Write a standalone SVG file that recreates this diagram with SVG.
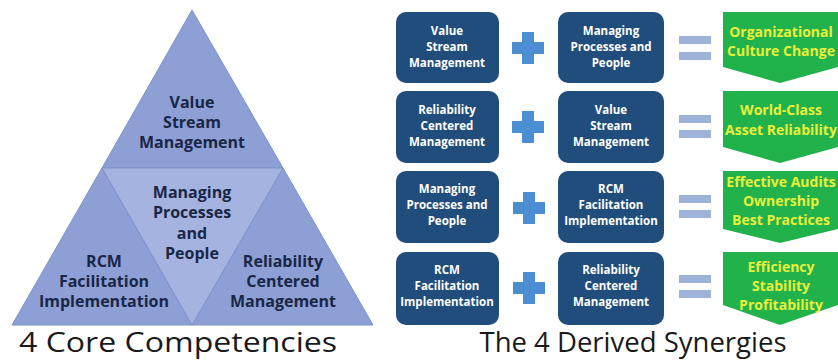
<svg xmlns="http://www.w3.org/2000/svg" width="838" height="362" viewBox="0 0 838 362">
<style>
.tri{fill:#8d9fd4;stroke:#7f92c8;stroke-width:1}
.mid{fill:#a4b3df;stroke:#7f92c8;stroke-width:1}
.tt{font-family:"Open Sans","DejaVu Sans",sans-serif;font-weight:bold;font-size:16px;fill:#1a2646;text-anchor:middle}
.box{fill:#214d7d}
.bt{font-family:"Open Sans","DejaVu Sans",sans-serif;font-weight:bold;font-size:11.5px;fill:#ffffff;text-anchor:middle}
.plus{fill:#4b8ed3}
.eq{fill:#9db3d9}
.arr{fill:#22b24c}
.gt{font-family:"Open Sans","DejaVu Sans",sans-serif;font-weight:bold;font-size:14px;fill:#e8f03c;text-anchor:middle}
.cap{font-family:"Open Sans","DejaVu Sans",sans-serif;font-size:27px;fill:#1a1a1a;text-anchor:middle}
</style>
<rect width="838" height="362" fill="#ffffff"/>

<g id="pyramid">
<g id="tri-vsm">
<polygon class="tri" points="192,10 102,168 283,168"/>
<text class="tt"><tspan x="192" y="108">Value</tspan><tspan x="192" y="128">Stream</tspan><tspan x="192" y="148">Management</tspan></text>
</g>
<g id="tri-rcm">
<polygon class="tri" points="102,168 12,325 192,325"/>
<text class="tt"><tspan x="104" y="267">RCM</tspan><tspan x="104" y="287">Facilitation</tspan><tspan x="104" y="307">Implementation</tspan></text>
</g>
<g id="tri-rel">
<polygon class="tri" points="283,168 192,325 373,325"/>
<text class="tt"><tspan x="283" y="267">Reliability</tspan><tspan x="283" y="287">Centered</tspan><tspan x="283" y="307">Management</tspan></text>
</g>
<g id="tri-mpp">
<polygon class="mid" points="102,168 283,168 192,325"/>
<text class="tt"><tspan x="192" y="198">Managing</tspan><tspan x="192" y="218">Processes</tspan><tspan x="192" y="239">and</tspan><tspan x="192" y="259">People</tspan></text>
</g>
</g>
<text class="cap" x="178" y="352" textLength="318" lengthAdjust="spacingAndGlyphs">4 Core Competencies</text>

<g id="connectors">
<g id="plus1"><rect class="plus" x="512" y="42" width="32" height="12"/><rect class="plus" x="522" y="32" width="12" height="32"/></g>
<g id="plus2"><rect class="plus" x="512" y="121" width="32" height="12"/><rect class="plus" x="522" y="111" width="12" height="32"/></g>
<g id="plus3"><rect class="plus" x="513" y="202" width="32" height="12"/><rect class="plus" x="523" y="192" width="12" height="32"/></g>
<g id="plus4"><rect class="plus" x="513" y="282" width="32" height="12"/><rect class="plus" x="523" y="272" width="12" height="32"/></g>
<g id="eq1"><rect class="eq" x="679" y="36" width="32" height="8"/><rect class="eq" x="679" y="52" width="32" height="8"/></g>
<g id="eq2"><rect class="eq" x="679" y="115" width="32" height="8"/><rect class="eq" x="679" y="130" width="32" height="8"/></g>
<g id="eq3"><rect class="eq" x="679" y="195" width="32" height="8"/><rect class="eq" x="679" y="210" width="32" height="8"/></g>
<g id="eq4"><rect class="eq" x="679" y="275" width="32" height="8"/><rect class="eq" x="679" y="290" width="32" height="8"/></g>
</g>

<g id="r1c1"><rect class="box" x="396" y="12" width="103" height="71" rx="10"/>
<text class="bt"><tspan x="447" y="35">Value</tspan><tspan x="447" y="51">Stream</tspan><tspan x="447" y="67">Management</tspan></text></g>
<g id="r1c2"><rect class="box" x="558" y="12" width="106" height="71" rx="10"/>
<text class="bt"><tspan x="611" y="35">Managing</tspan><tspan x="611" y="51">Processes and</tspan><tspan x="611" y="67">People</tspan></text></g>
<g id="r2c1"><rect class="box" x="396" y="91" width="103" height="72" rx="10"/>
<text class="bt"><tspan x="447" y="114">Reliability</tspan><tspan x="447" y="130">Centered</tspan><tspan x="447" y="146">Management</tspan></text></g>
<g id="r2c2"><rect class="box" x="558" y="91" width="106" height="72" rx="10"/>
<text class="bt"><tspan x="611" y="114">Value</tspan><tspan x="611" y="130">Stream</tspan><tspan x="611" y="146">Management</tspan></text></g>
<g id="r3c1"><rect class="box" x="396" y="171" width="103" height="72" rx="10"/>
<text class="bt"><tspan x="447" y="193">Managing</tspan><tspan x="447" y="209">Processes and</tspan><tspan x="447" y="225">People</tspan></text></g>
<g id="r3c2"><rect class="box" x="558" y="171" width="106" height="72" rx="10"/>
<text class="bt"><tspan x="611" y="193">RCM</tspan><tspan x="611" y="209">Facilitation</tspan><tspan x="611" y="225">Implementation</tspan></text></g>
<g id="r4c1"><rect class="box" x="396" y="252" width="103" height="73" rx="10"/>
<text class="bt"><tspan x="447" y="274">RCM</tspan><tspan x="447" y="290">Facilitation</tspan><tspan x="447" y="306">Implementation</tspan></text></g>
<g id="r4c2"><rect class="box" x="558" y="252" width="106" height="73" rx="10"/>
<text class="bt"><tspan x="611" y="274">Reliability</tspan><tspan x="611" y="290">Centered</tspan><tspan x="611" y="306">Management</tspan></text></g>

<g id="res1"><polygon class="arr" points="723,12 838,12 838,67 780,83 723,67"/>
<text class="gt"><tspan x="781" y="37">Organizational</tspan><tspan x="781" y="56">Culture Change</tspan></text></g>
<g id="res2"><polygon class="arr" points="723,91 838,91 838,147 780,163 723,147"/>
<text class="gt"><tspan x="781" y="115">World-Class</tspan><tspan x="781" y="135">Asset Reliability</tspan></text></g>
<g id="res3"><polygon class="arr" points="723,171 838,171 838,229 780,243 723,229"/>
<text class="gt"><tspan x="781" y="187">Effective Audits</tspan><tspan x="781" y="206">Ownership</tspan><tspan x="781" y="225">Best Practices</tspan></text></g>
<g id="res4"><polygon class="arr" points="723,252 838,252 838,305 780,325 723,305"/>
<text class="gt"><tspan x="781" y="272">Efficiency</tspan><tspan x="781" y="291">Stability</tspan><tspan x="781" y="310">Profitability</tspan></text></g>

<text class="cap" x="633" y="352" textLength="307" lengthAdjust="spacingAndGlyphs">The 4 Derived Synergies</text>
</svg>
